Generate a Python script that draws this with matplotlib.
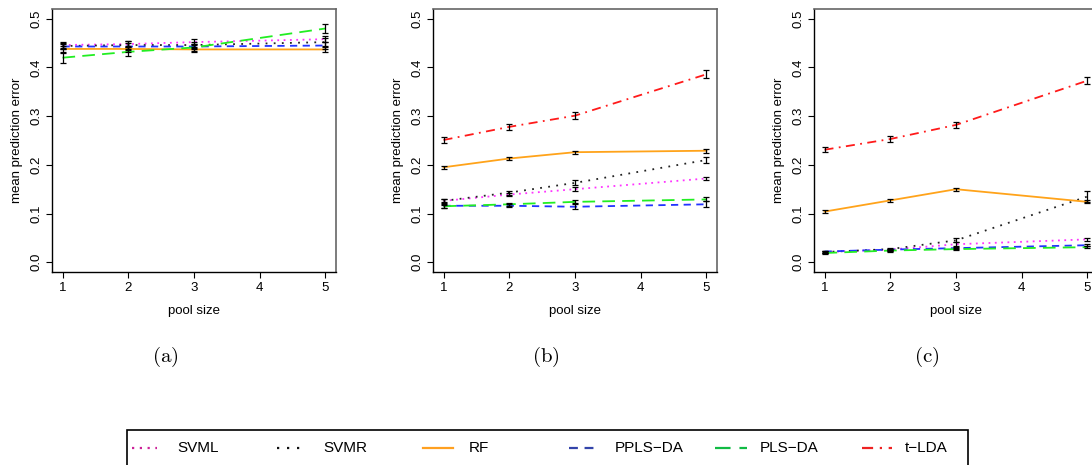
import numpy as np
import matplotlib
matplotlib.use("Agg")
import matplotlib.pyplot as plt
from matplotlib.lines import Line2D
from matplotlib.patches import Rectangle

plt.rcParams['font.family'] = ['Liberation Sans', 'DejaVu Sans']
plt.rcParams['mathtext.fontset'] = 'cm'

pool_size = [1, 2, 3, 5]
methods = ["SVML", "SVMR", "RF", "PPLS-DA", "PLS-DA", "t-LDA"]

# mean prediction error per method, one dict per panel
err_a = {
    "SVML": [0.446, 0.448, 0.452, 0.458],
    "SVMR": [0.444, 0.446, 0.446, 0.452],
    "RF": [0.438, 0.438, 0.437, 0.437],
    "PPLS-DA": [0.443, 0.443, 0.443, 0.445],
    "PLS-DA": [0.420, 0.432, 0.441, 0.480],
}
err_b = {
    "SVML": [0.126, 0.139, 0.150, 0.172],
    "SVMR": [0.126, 0.143, 0.163, 0.210],
    "RF": [0.195, 0.213, 0.226, 0.229],
    "PPLS-DA": [0.116, 0.116, 0.114, 0.119],
    "PLS-DA": [0.115, 0.119, 0.124, 0.129],
    "t-LDA": [0.251, 0.278, 0.301, 0.386],
}
err_c = {
    "SVML": [0.021, 0.026, 0.037, 0.047],
    "SVMR": [0.021, 0.027, 0.045, 0.135],
    "RF": [0.104, 0.127, 0.150, 0.124],
    "PPLS-DA": [0.022, 0.026, 0.029, 0.035],
    "PLS-DA": [0.019, 0.024, 0.027, 0.031],
    "t-LDA": [0.231, 0.253, 0.282, 0.373],
}

# standard errors (half length of the error bars)
se_a = {
    "SVML": [0.006, 0.007, 0.006, 0.006],
    "SVMR": [0.007, 0.008, 0.007, 0.008],
    "RF": [0.006, 0.007, 0.006, 0.006],
    "PPLS-DA": [0.006, 0.007, 0.006, 0.007],
    "PLS-DA": [0.010, 0.009, 0.008, 0.010],
}
se_b = {
    "SVML": [0.003, 0.003, 0.004, 0.003],
    "SVMR": [0.004, 0.004, 0.005, 0.007],
    "RF": [0.003, 0.003, 0.003, 0.004],
    "PPLS-DA": [0.004, 0.003, 0.005, 0.006],
    "PLS-DA": [0.003, 0.003, 0.003, 0.004],
    "t-LDA": [0.007, 0.006, 0.007, 0.008],
}
se_c = {
    "SVML": [0.002, 0.002, 0.004, 0.003],
    "SVMR": [0.002, 0.002, 0.004, 0.012],
    "RF": [0.003, 0.003, 0.003, 0.003],
    "PPLS-DA": [0.002, 0.002, 0.002, 0.002],
    "PLS-DA": [0.002, 0.002, 0.002, 0.002],
    "t-LDA": [0.005, 0.006, 0.007, 0.007],
}

panels = [("(a)", err_a, se_a), ("(b)", err_b, se_b), ("(c)", err_c, se_c)]

line_colors = {"SVML": "#ff33ff", "SVMR": "#222222", "RF": "#ffa31a",
               "PPLS-DA": "#2233ff", "PLS-DA": "#22ee22", "t-LDA": "#ff1a1a"}
leg_colors = {"SVML": "#cc2299", "SVMR": "#111111", "RF": "#ffa020",
              "PPLS-DA": "#3344aa", "PLS-DA": "#11bb44", "t-LDA": "#ee2222"}
dashes = {"SVML": (1, 2.5), "SVMR": (1, 3.5), "RF": (None, None),
          "PPLS-DA": (4, 3), "PLS-DA": (7, 4), "t-LDA": (5, 3, 1, 3)}

W, H = 1092, 465
fig = plt.figure(figsize=(W / 100, H / 100), dpi=100)

lefts = [52, 433, 814]
for (cap, errs, ses), left in zip(panels, lefts):
    ax = fig.add_axes([left / W, (H - 272) / H, 284 / W, 263 / H])
    for m in methods:
        if m not in errs:
            continue
        ln, = ax.plot(pool_size, errs[m], color=line_colors[m], lw=1.3)
        if dashes[m][0] is not None:
            ln.set_dashes(dashes[m])
        ax.errorbar(pool_size, errs[m], yerr=ses[m], fmt='none', ecolor='black',
                    elinewidth=0.9, capsize=2.5, capthick=0.9, zorder=3)
    ax.set_xlim(0.84, 5.16)
    ax.set_ylim(-0.02, 0.52)
    ax.set_xticks([1, 2, 3, 4, 5])
    ax.set_yticks([0.0, 0.1, 0.2, 0.3, 0.4, 0.5])
    ax.set_yticklabels(["0.0", "0.1", "0.2", "0.3", "0.4", "0.5"], rotation=90, va='center')
    ax.tick_params(labelsize=9.5, length=4, width=0.8, pad=3)
    ax.set_xlabel("pool size", fontsize=9.5, labelpad=8)
    ax.set_ylabel("mean prediction error", fontsize=9.5, labelpad=5)
    for side in ["left", "bottom"]:
        ax.spines[side].set_color("black")
        ax.spines[side].set_linewidth(1.0)
    for side in ["top", "right"]:
        ax.spines[side].set_color("#666666")
        ax.spines[side].set_linewidth(1.2)
    fig.text((left + 113) / W, 1 - 357 / H, r"$\mathrm{%s}$" % cap,
             fontsize=15, ha='center', va='center')

# shared legend box along the bottom
fig.add_artist(Rectangle((127 / W, -0.1), (968 - 127) / W, 0.1 + (H - 430) / H,
                         transform=fig.transFigure, fill=False,
                         edgecolor='black', lw=1.2))
leg_y = 1 - 448 / H
handle_x = {"SVML": (132, 157), "SVMR": (277, 303), "RF": (423, 453),
            "PPLS-DA": (569, 595), "PLS-DA": (715, 747), "t-LDA": (862, 892)}
label_x = {"SVML": 177, "SVMR": 323, "RF": 469,
           "PPLS-DA": 615, "PLS-DA": 760, "t-LDA": 905}
for m in methods:
    x0, x1 = handle_x[m]
    h = Line2D([x0 / W, x1 / W], [leg_y, leg_y], transform=fig.transFigure,
               color=leg_colors[m], lw=1.6)
    if dashes[m][0] is not None:
        h.set_dashes(dashes[m])
    fig.add_artist(h)
    fig.text(label_x[m] / W, leg_y, m.replace("-", "\u2212"), fontsize=11,
             ha='left', va='center')

fig.savefig("out.png", dpi=100)
